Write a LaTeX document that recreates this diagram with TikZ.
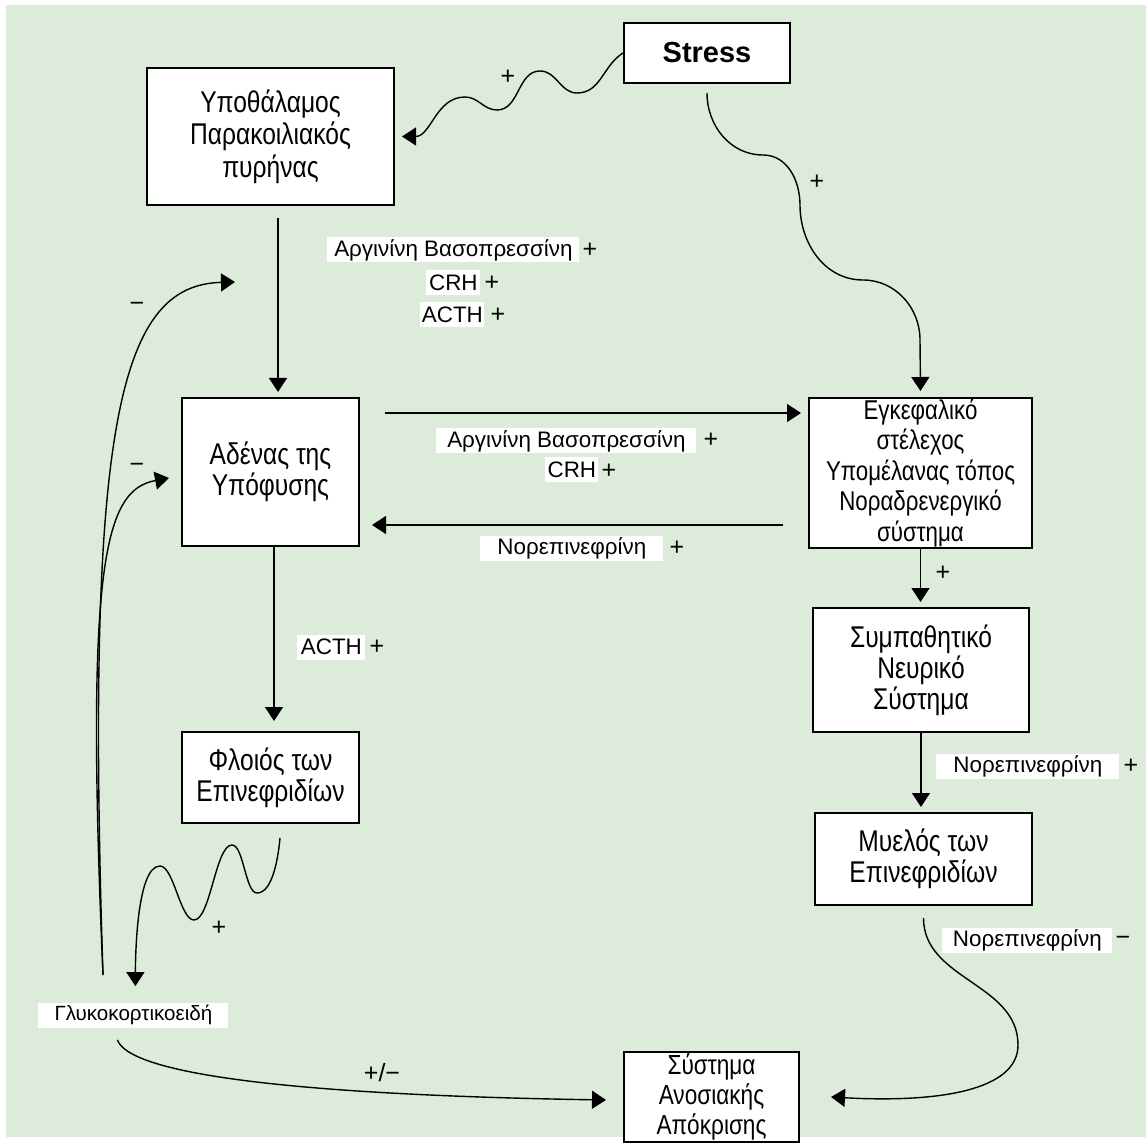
\documentclass[tikz,border=0pt]{standalone}
\usepackage{fontspec}
\setmainfont{Liberation Sans}
\newfontfamily\narrowfont[FakeStretch=0.82]{Liberation Sans}
\usetikzlibrary{arrows.meta}
\definecolor{bggreen}{RGB}{221,235,219}

\begin{document}
\begin{tikzpicture}[x=0.5pt, y=-0.5pt,
    box/.style={draw, line width=1pt, fill=white, align=center, inner sep=0pt,
        font=\narrowfont\fontsize{15}{15.5}\selectfont},
    lbl/.style={fill=white, anchor=west, inner sep=0pt, minimum height=12.5pt,
        font=\fontsize{11.2}{13}\selectfont},
    sgn/.style={inner sep=0pt, font=\fontsize{12.5}{14}\selectfont},
    arr/.style={-{Triangle[length=7pt,width=9pt]}, line width=0.7pt}]

        % Background
        \useasboundingbox (0,0) rectangle (1146,1144);
        \fill[bggreen] (6,5) rectangle (1146,1137);

        % Boxes
        \node[box, minimum width=83pt, minimum height=30pt,
            font=\fontsize{14.5}{16}\selectfont\bfseries] (stress) at (707,53) {Stress};
        \node[box, minimum width=123.5pt, minimum height=68.5pt,
            font=\narrowfont\fontsize{15}{16.25}\selectfont] (hypo) at (270.5,136.5)
            {Υποθάλαμος\\Παρακοιλιακός\\πυρήνας};
        \node[box, minimum width=88.5pt, minimum height=74pt] (adenas) at (270.5,472)
            {Αδένας της\\Υπόφυσης};
        \node[box, minimum width=111.5pt, minimum height=75pt,
            font=\narrowfont\fontsize{13.6}{15.25}\selectfont] (brain) at (920.5,473)
            {Εγκεφαλικό\\στέλεχος\\Υπομέλανας τόπος\\Νοραδρενεργικό\\σύστημα};
        \node[box, minimum width=108pt, minimum height=62pt] (symp) at (921,670)
            {Συμπαθητικό\\Νευρικό\\Σύστημα};
        \node[box, minimum width=108.5pt, minimum height=46pt] (myelos) at (923.5,859)
            {Μυελός των\\Επινεφριδίων};
        \node[box, minimum width=88.5pt, minimum height=45.5pt] (floios) at (270.5,777.5)
            {Φλοιός των\\Επινεφριδίων};
        \node[box, minimum width=87.5pt, minimum height=45pt,
            font=\narrowfont\fontsize{13.8}{15}\selectfont] (immune) at (711.5,1097)
            {Σύστημα\\Ανοσιακής\\Απόκρισης};

        % Labels
        \node[lbl, minimum width=126pt] (avp1) at (327,250) {Αργινίνη Βασοπρεσσίνη};
        \node[lbl, minimum width=27pt] (crh1) at (426,283) {CRH};
        \node[lbl, minimum width=32pt] (acth1) at (420,315) {ACTH};
        \node[lbl, minimum width=130pt] (avp2) at (436,441) {Αργινίνη Βασοπρεσσίνη};
        \node[lbl, minimum width=26.5pt] (crh2) at (545,470) {CRH};
        \node[lbl, minimum width=91.5pt] (ne1) at (480,548) {Νορεπινεφρίνη};
        \node[lbl, minimum width=34pt] (acth2) at (297,647) {ACTH};
        \node[lbl, minimum width=91.5pt] (ne2) at (936,766) {Νορεπινεφρίνη};
        \node[lbl, minimum width=85pt] (ne3) at (942,940) {Νορεπινεφρίνη};
        \node[lbl, minimum width=95pt, font=\fontsize{10.3}{12}\selectfont] (gluco) at (38,1015)
            {Γλυκοκορτικοειδή};

        % Signs
        \node[sgn] (pavp1) at (590,250) {+};
        \node[sgn] (pcrh1) at (492,283) {+};
        \node[sgn] (pacth1) at (498,315) {+};
        \node[sgn] (pavp2) at (711,440) {+};
        \node[sgn] (pcrh2) at (609,471) {+};
        \node[sgn] (pne1) at (677,548) {+};
        \node[sgn] (pacth2) at (377,647) {+};
        \node[sgn] (pne2) at (1131,766) {+};
        \node[sgn] (mne3) at (1123,941) {−};
        \node[sgn] (pstress1) at (508,77) {+};
        \node[sgn] (pstress2) at (817,182) {+};
        \node[sgn] (pbrain) at (943,573) {+};
        \node[sgn] (pfloios) at (219,928) {+};
        \node[sgn] (mtop) at (137,307) {−};
        \node[sgn] (mlow) at (137,468) {−};
        \node[sgn] (pmgluco) at (382,1073) {+/−};

        % Arrows
        \draw[arr] (stress.west) to[out=212,in=0] (577,93) to[out=180,in=0] (540,71)
            to[out=180,in=0] (497,110) to[out=180,in=0] (465,97)
            to[out=180,in=0] ([xshift=3.5pt]hypo.east);
        \draw[arr] ([yshift=-4.5pt]stress.south) to[out=270,in=180] (763,155)
            to[out=0,in=90] (800,205) to[out=270,in=180] (863,280)
            to[out=0,in=90] (920,340) -- ([yshift=3pt]brain.north);
        \draw[arr] ([xshift=3.75pt,yshift=-6pt]hypo.south) -- ([xshift=3.75pt,yshift=2.5pt]adenas.north);
        \draw[arr] ([xshift=12.5pt,yshift=-8pt]adenas.north east) -- ([xshift=-3.5pt,yshift=-8pt]brain.north west);
        \draw[arr] ([xshift=-12.5pt,yshift=12pt]brain.south west) -- ([xshift=6pt,yshift=11pt]adenas.south east);
        \draw[arr] ([xshift=1.75pt]adenas.south) -- ([xshift=1.75pt,yshift=5pt]floios.north);
        \draw[arr] (brain.south) -- ([yshift=2.5pt]brain.south |- symp.north);
        \draw[arr] (symp.south) -- ([yshift=2.5pt]symp.south |- myelos.north);
        \draw[arr] ([yshift=-6pt]myelos.south) to[out=270,in=90] (1018,1045)
            .. controls (1018,1090) and (940,1103) .. ([xshift=15.5pt]immune.east);
        \draw[arr] ([xshift=4.75pt,yshift=-7pt]floios.south) to[out=265,in=0,looseness=0.7] (257,893)
            to[out=180,in=0,looseness=0.55] (232,845) to[out=180,in=0,looseness=0.5] (194,920)
            to[out=180,in=0,looseness=0.55] (160,866) to[out=180,in=90,looseness=0.5] ([xshift=1pt,yshift=8pt]gluco.north);
        \draw[arr] ([xshift=-8pt,yshift=-6pt]gluco.south) .. controls (130,1075) and (300,1095)
            .. ([xshift=-8.5pt,yshift=-1.5pt]immune.west);

        % Feedback
        \coordinate (fb) at (103,975);
        \coordinate (fbtop) at (235,282);
        \draw[arr] (fb) .. controls (85,420) and (120,285) .. (fbtop);
        \draw[arr] (fb) .. controls (85,560) and (105,490) .. ([xshift=-6pt,yshift=-3pt]adenas.west);
    \end{tikzpicture}
\end{document}
